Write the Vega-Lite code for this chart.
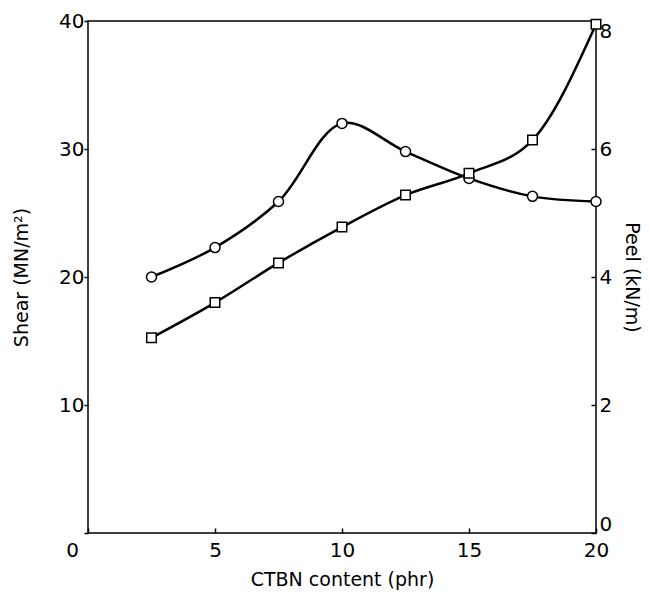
{
  "$schema": "https://vega.github.io/schema/vega-lite/v6.json",
  "width": 508,
  "height": 512,
  "autosize": "none",
  "padding": {"left": 88, "top": 21, "right": 53, "bottom": 59},
  "background": "white",
  "config": {
    "view": {"stroke": "black", "strokeWidth": 1.5},
    "axis": {
      "labelFont": "DejaVu Sans",
      "titleFont": "DejaVu Sans",
      "labelFontSize": 20,
      "titleFontSize": 19,
      "titleFontWeight": "normal",
      "labelColor": "black",
      "titleColor": "black",
      "tickColor": "black",
      "tickWidth": 1.5,
      "domain": false,
      "grid": false
    }
  },
  "data": {
    "values": [
      {"x": 2.5, "shear": 20.0, "peel": 3.05},
      {"x": 5, "shear": 22.3, "peel": 3.6},
      {"x": 7.5, "shear": 25.9, "peel": 4.22},
      {"x": 10, "shear": 32.0, "peel": 4.78},
      {"x": 12.5, "shear": 29.8, "peel": 5.28},
      {"x": 15, "shear": 27.7, "peel": 5.62},
      {"x": 17.5, "shear": 26.3, "peel": 6.14},
      {"x": 20, "shear": 25.9, "peel": 7.95}
    ]
  },
  "encoding": {
    "x": {
      "field": "x",
      "type": "quantitative",
      "scale": {"domain": [0, 20], "nice": false, "zero": false},
      "axis": {
        "title": "CTBN content (phr)",
        "values": [0, 5, 10, 15, 20],
        "tickSize": -5,
        "labelPadding": 12,
        "titlePadding": 10,
        "labelFlush": false,
        "labelOffset": {"condition": {"test": "datum.value == 0", "value": -16}, "value": 0}
      }
    }
  },
  "layer": [
    {
      "encoding": {
        "y": {
          "field": "shear",
          "type": "quantitative",
          "scale": {"domain": [0, 40], "nice": false},
          "axis": {
            "orient": "left",
            "title": "Shear (MN/m²)",
            "values": [0, 10, 20, 30, 40],
            "labelExpr": "datum.value == 0 ? '' : datum.label",
            "tickSize": 4,
            "labelPadding": 0,
            "titlePadding": 27,
            "labelFlush": false
          }
        }
      },
      "layer": [
        {"mark": {"type": "line", "interpolate": "catmull-rom", "color": "black", "strokeWidth": 2.5}},
        {"mark": {"type": "point", "shape": "circle", "filled": true, "fill": "white", "stroke": "black", "strokeWidth": 1.5, "size": 100, "opacity": 1}}
      ]
    },
    {
      "encoding": {
        "y": {
          "field": "peel",
          "type": "quantitative",
          "scale": {"domain": [0, 8], "nice": false},
          "axis": {
            "orient": "right",
            "title": "Peel (kN/m)",
            "values": [0, 2, 4, 6, 8],
            "tickSize": -5,
            "labelPadding": 8,
            "titlePadding": 10,
            "labelFlush": false,
            "labelOffset": {"condition": {"test": "datum.value == 0", "value": -9}, "value": 0},
            "labelBaseline": {"condition": {"test": "datum.value == 8", "value": "top"}, "value": "middle"},
            "labelAlign": "left"
          }
        }
      },
      "layer": [
        {"mark": {"type": "line", "interpolate": "monotone", "color": "black", "strokeWidth": 2.5}},
        {"mark": {"type": "point", "shape": "square", "filled": true, "fill": "white", "stroke": "black", "strokeWidth": 1.5, "size": 90, "opacity": 1}}
      ]
    }
  ],
  "resolve": {"scale": {"y": "independent"}}
}
